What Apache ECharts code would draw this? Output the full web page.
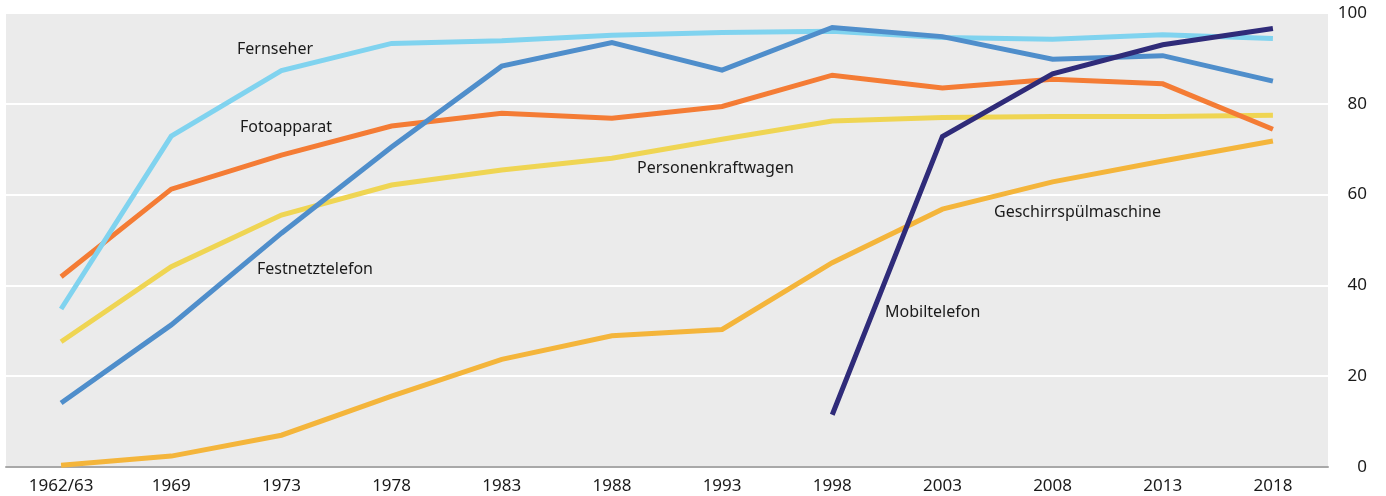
<!DOCTYPE html>
<html>
<head>
<meta charset="utf-8">
<style>
    html, body { margin: 0; padding: 0; background: #fff; }
    #main { width: 1386px; height: 496px; }
</style>
<script src="https://cdn.jsdelivr.net/npm/echarts@6/dist/echarts.min.js"></script>
</head>
<body>
<div id="main"></div>
<script>
    // Ausstattung privater Haushalte, in %
    const years = ['1962/63', '1969', '1973', '1978', '1983', '1988', '1993', '1998', '2003', '2008', '2013', '2018']
    const yTicks = [0, 20, 40, 60, 80, 100]

    const fernseher = [34.8, 72.9, 87.3, 93.3, 93.9, 95.1, 95.7, 96.0, 94.6, 94.2, 95.2, 94.4]
    const festnetz = [14.1, 31.3, 51.5, 70.5, 88.3, 93.5, 87.4, 96.8, 94.8, 89.8, 90.6, 85.0]
    const foto = [41.9, 61.2, 68.7, 75.1, 77.9, 76.8, 79.4, 86.3, 83.5, 85.4, 84.4, 74.4]
    const pkw = [27.6, 44.1, 55.5, 62.1, 65.4, 68.0, 72.2, 76.2, 77.0, 77.2, 77.2, 77.5]
    const spuel = [0.4, 2.4, 7.0, 15.6, 23.7, 28.9, 30.3, 45.0, 56.8, 62.8, 67.4, 71.8]
    const mobil = [null, null, null, null, null, null, null, 11.5, 72.8, 86.6, 93.0, 96.6]

    const font = 'Noto Sans'
    const txt = '#1a1a1a'

    function line(name, data, color) {
        return {
            name: name,
            type: 'line',
            data: data,
            symbol: 'none',
            connectNulls: false,
            lineStyle: { width: 5, color: color, cap: 'butt', join: 'miter' },
            itemStyle: { color: color },
            emphasis: { disabled: true }
        }
    }

    // Beschriftung direkt an den Linien
    function note(text, left, top) {
        return {
            type: 'text',
            left: left,
            top: top,
            style: { text: text, fill: txt, font: '16px "' + font + '"' }
        }
    }

    let chart = echarts.init(document.getElementById('main'))
    chart.setOption({
        animation: false,
        textStyle: { fontFamily: font },
        grid: {
            left: 6,
            right: 58,
            top: 13,
            bottom: 29,
            show: true,
            backgroundColor: '#ebebeb',
            borderWidth: 0
        },
        xAxis: {
            type: 'category',
            data: years,
            boundaryGap: true,
            axisLine: { lineStyle: { color: '#a8a8a8', width: 2 } },
            axisTick: { length: 7, lineStyle: { color: '#a8a8a8', width: 1 } },
            axisLabel: { color: txt, fontSize: 17, margin: 11, fontFamily: font }
        },
        yAxis: {
            type: 'value',
            position: 'right',
            min: yTicks[0],
            max: yTicks[yTicks.length - 1],
            interval: 20,
            axisLine: { show: false },
            axisTick: { show: false },
            splitLine: { lineStyle: { color: '#ffffff', width: 2 } },
            axisLabel: { color: txt, fontSize: 17, align: 'right', margin: 39, fontFamily: font }
        },
        series: [
            line('Geschirrspülmaschine', spuel, '#f4b53b'),
            line('Personenkraftwagen', pkw, '#efd553'),
            line('Fotoapparat', foto, '#f47c35'),
            line('Fernseher', fernseher, '#80d3ef'),
            line('Festnetztelefon', festnetz, '#4f8ecb'),
            line('Mobiltelefon', mobil, '#2f2b79')
        ],
        graphic: [
            note('Fernseher', 237, 41),
            note('Fotoapparat', 240, 119),
            note('Festnetztelefon', 257, 261),
            note('Personenkraftwagen', 637, 160),
            note('Geschirrspülmaschine', 994, 204),
            note('Mobiltelefon', 885, 304)
        ]
    })
</script>
</body>
</html>
